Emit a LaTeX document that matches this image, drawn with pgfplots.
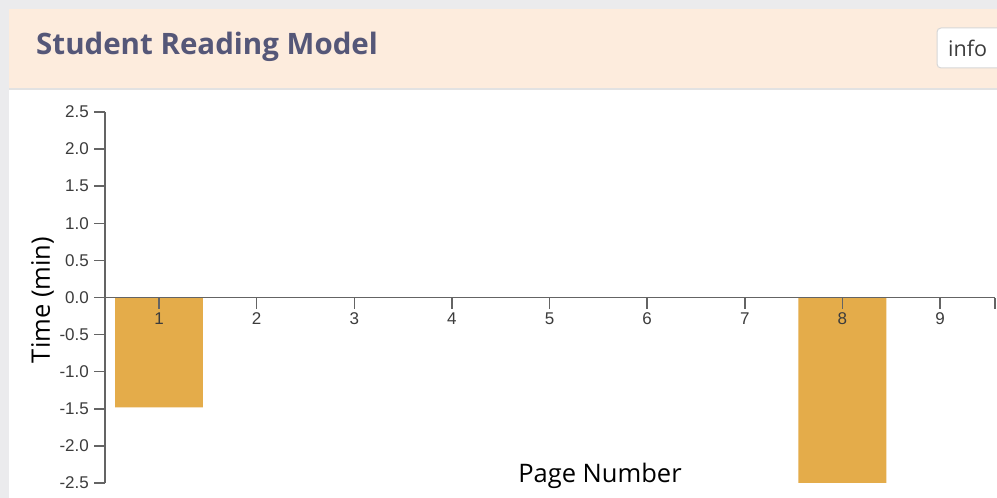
\documentclass[border=0pt]{standalone}
\usepackage{pgfplots}
\usepackage{pgfplotstable}
\pgfplotsset{compat=1.18}
\usepackage{fontspec}
\setmainfont{Liberation Sans}
\newfontfamily\opensans{Open Sans}
\definecolor{bggray}{RGB}{235,235,237}
\definecolor{peach}{RGB}{253,236,221}
\definecolor{hdrborder}{RGB}{226,226,226}
\definecolor{titlecol}{RGB}{85,87,120}
\definecolor{barcol}{RGB}{228,172,74}
\definecolor{axiscol}{RGB}{100,100,100}
\definecolor{btnborder}{RGB}{215,215,215}
\definecolor{ticktext}{RGB}{60,60,60}

\pgfplotstableread{
page time
1 -1.48
2 0
3 0
4 0
5 0
6 0
7 0
8 -2.5
9 0
}\readtable

\begin{document}
\begin{tikzpicture}[x=1pt,y=1pt]
\useasboundingbox (0,0) rectangle (997,498);
\clip (0,0) rectangle (997,498);
\fill[bggray] (0,0) rectangle (997,498);
\fill[white] (9,0) rectangle (997,409);
\fill[peach] (9,409) rectangle (997,489);
\draw[hdrborder, line width=1.5pt] (9,409) -- (997,409);
\node[anchor=base west, inner sep=0pt, text=titlecol] at (36,443)
  {\opensans\bfseries\fontsize{29.5}{34}\selectfont Student Reading Model};
\draw[fill=white, draw=btnborder, line width=1pt, rounded corners=4pt] (937,430) rectangle (1012,470);
\node[anchor=base west, inner sep=0pt, text=ticktext] at (948,441)
  {\opensans\fontsize{21.5}{24}\selectfont info};

\begin{axis}[
  at={(105pt,15pt)}, anchor=south west,
  scale only axis, width=890pt, height=371pt,
  xmin=0.447, xmax=9.563, ymin=-2.5, ymax=2.5,
  axis x line*=middle, axis y line*=left,
  axis line style={axiscol, line width=1.5pt, -},
  hide obscured x ticks=false, hide obscured y ticks=false,
  axis on top,
  xtick={1,2,3,4,5,6,7,8,9},
  xticklabels={1,2,3,4,5,6,7,8,9},
  extra x ticks={9.563}, extra x tick labels={},
  ytick={-2.5,-2,-1.5,-1,-0.5,0,0.5,1,1.5,2,2.5},
  yticklabels={-2.5,-2.0,-1.5,-1.0,-0.5,0.0,0.5,1.0,1.5,2.0,2.5},
  xtick align=outside, ytick align=outside,
  major tick length=11pt,
  major tick style={axiscol, line width=1.5pt},
  extra tick style={major tick length=11pt, tick style={axiscol, line width=1.5pt}},
  ticklabel style={font=\fontsize{17}{19}\selectfont, text=ticktext},
  xticklabel style={anchor=north, inner sep=0pt, yshift=-4pt},
  yticklabel style={anchor=east, inner sep=0pt, xshift=-5pt},
  clip=false,
]
\addplot[ybar, bar width=0.9, fill=barcol, draw=none] table[x=page, y=time] {\readtable};
\end{axis}

\node[anchor=base, inner sep=0pt] at (600,15)
  {\opensans\fontsize{25.5}{30}\selectfont Page Number};
\node[anchor=base, rotate=90, inner sep=0pt] at (50,198)
  {\opensans\fontsize{25.5}{30}\selectfont Time (min)};
\end{tikzpicture}
\end{document}
